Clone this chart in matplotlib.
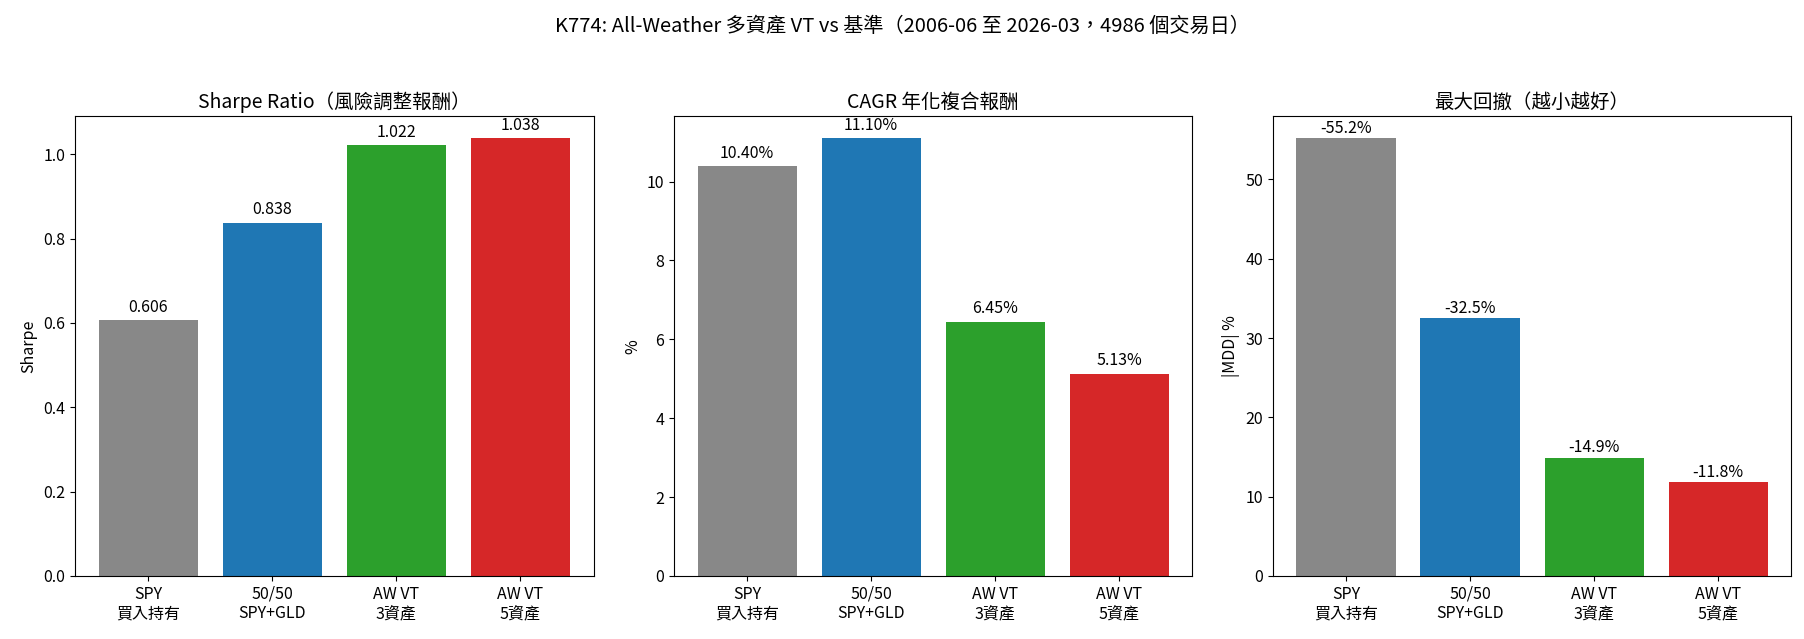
import matplotlib.pyplot as plt

plt.rcParams['font.family'] = ['Noto Sans CJK TC', 'DejaVu Sans']

# data
strategies = ["SPY\n買入持有", "50/50\nSPY+GLD", "AW VT\n3資產", "AW VT\n5資產"]
sharpe = [0.606, 0.838, 1.022, 1.038]
cagr = [10.40, 11.10, 6.45, 5.13]
mdd = [-55.2, -32.5, -14.9, -11.8]
colors = ["#888888", "#1f77b4", "#2ca02c", "#d62728"]

fig, axes = plt.subplots(1, 3, figsize=(18.04, 6.39), dpi=100)
fig.subplots_adjust(left=0.0416, right=0.993, bottom=0.0986, top=0.818, wspace=0.155)

fig.suptitle("K774: All-Weather 多資產 VT vs 基準（2006-06 至 2026-03，4986 個交易日）",
             fontsize=14.5, y=0.975)

x = range(len(strategies))

# Sharpe
ax = axes[0]
ax.bar(x, sharpe, color=colors)
for i, v in enumerate(sharpe):
    ax.annotate(f"{v:.3f}", (i, v), xytext=(0, 3), textcoords="offset points",
                ha="center", va="bottom", fontsize=11.5)
ax.set_title("Sharpe Ratio（風險調整報酬）", fontsize=14)
ax.set_ylabel("Sharpe", fontsize=11.5)

# CAGR
ax = axes[1]
ax.bar(x, cagr, color=colors)
for i, v in enumerate(cagr):
    ax.annotate(f"{v:.2f}%", (i, v), xytext=(0, 3), textcoords="offset points",
                ha="center", va="bottom", fontsize=11.5)
ax.set_title("CAGR 年化複合報酬", fontsize=14)
ax.set_ylabel("%", fontsize=11.5)

# MDD
ax = axes[2]
mdd_abs = [abs(v) for v in mdd]
ax.bar(x, mdd_abs, color=colors)
for i, v in enumerate(mdd):
    ax.annotate(f"{v:.1f}%", (i, abs(v)), xytext=(0, 1), textcoords="offset points",
                ha="center", va="bottom", fontsize=11.5)
ax.set_title("最大回撤（越小越好）", fontsize=14)
ax.set_ylabel("|MDD| %", fontsize=11.5)

for ax in axes:
    ax.set_xticks(list(x))
    ax.set_xticklabels(strategies, fontsize=11.5)
    ax.tick_params(axis="y", labelsize=11.5)

fig.savefig("out.png", dpi=100)
